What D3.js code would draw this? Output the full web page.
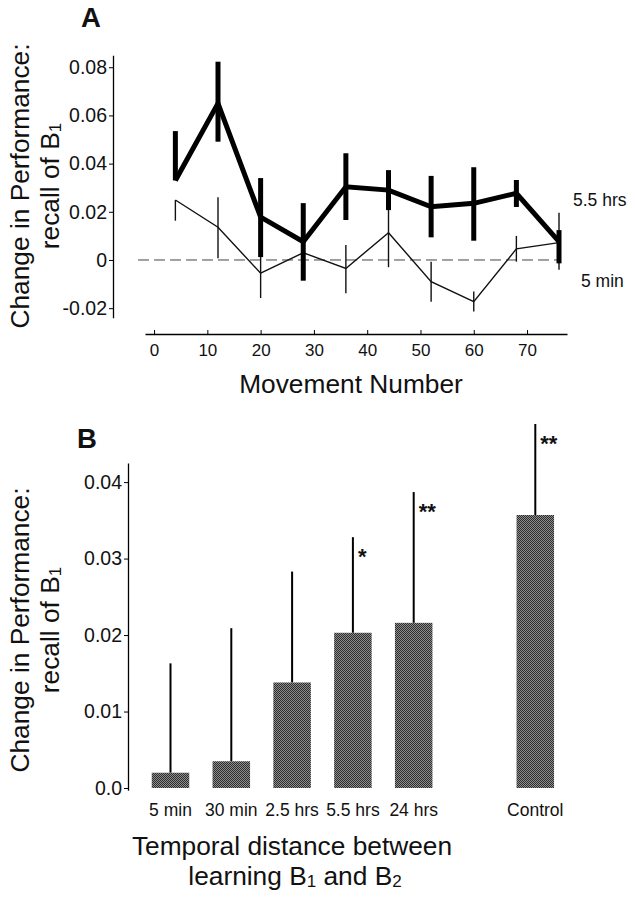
<!DOCTYPE html>
<html>
<head>
<meta charset="utf-8">
<script src="https://cdn.jsdelivr.net/npm/d3@7/dist/d3.min.js"></script>
<style>
  html, body { margin: 0; padding: 0; background: #fff; }
  svg { display: block; }
  text { font-family: "Liberation Sans", Arial, Helvetica, sans-serif; fill: #111; }
</style>
</head>
<body>
<script>
// ---------------- DATA ----------------
// Panel A
const movement = [4, 12, 20, 28, 36, 44, 52, 60, 68, 76];
const hrs55     = [0.0330, 0.0650, 0.0178, 0.0076, 0.0304, 0.0290, 0.0221, 0.0235, 0.0277, 0.0076];
const hrs55Hi   = [0.0535, 0.0823, 0.0340, 0.0236, 0.0443, 0.0373, 0.0349, 0.0385, 0.0332, 0.0124];
const hrs55Lo   = [0.0330, 0.0491, 0.0012, -0.0086, 0.0166, 0.0207, 0.0094, 0.0080, 0.0220, -0.0014];
const min5      = [0.0249, 0.0136, -0.0055, 0.0030, -0.0035, 0.0113, -0.0090, -0.0173, 0.0046, 0.0072];
const min5Hi    = [0.0249, 0.0260, 0.0050, 0.0120, 0.0062, 0.0256, -0.0007, -0.0131, 0.0100, 0.0196];
const min5Lo    = [0.0163, 0.0007, -0.0158, -0.0060, -0.0138, -0.0030, -0.0173, -0.0214, -0.0007, -0.0041];
const seriesLabelsA = ["5.5 hrs", "5 min"];
const yTicksA = [-0.02, 0, 0.02, 0.04, 0.06, 0.08];
const yTickLabelsA = ["-0.02", "0", "0.02", "0.04", "0.06", "0.08"];
const xTicksA = [0, 10, 20, 30, 40, 50, 60, 70];

// Panel B
const categoriesB = ["5 min", "30 min", "2.5 hrs", "5.5 hrs", "24 hrs", "Control"];
const valuesB   = [0.0020, 0.0035, 0.0138, 0.0203, 0.0216, 0.0357];
const errTopB   = [0.0163, 0.0209, 0.0283, 0.0328, 0.0387, 0.0476];
const signifB   = ["", "", "", "*", "**", "**"];
const yTicksB = [0, 0.01, 0.02, 0.03, 0.04];
const yTickLabelsB = ["0.0", "0.01", "0.02", "0.03", "0.04"];

// ---------------- DRAW ----------------
const W = 635, H = 899;
const TITLE = 26.3, TICK = 19.5;
const svg = d3.select("body").append("svg").attr("width", W).attr("height", H);
svg.append("rect").attr("width", W).attr("height", H).attr("fill", "#fff");

const defs = svg.append("defs");
const pat = defs.append("pattern").attr("id", "stip").attr("patternUnits", "userSpaceOnUse")
  .attr("width", 2).attr("height", 2);
pat.append("rect").attr("width", 2).attr("height", 2).attr("fill", "#8e8e8e");
pat.append("rect").attr("x", 0).attr("y", 0).attr("width", 1).attr("height", 1).attr("fill", "#2c2c2c");
pat.append("rect").attr("x", 1).attr("y", 1).attr("width", 1).attr("height", 1).attr("fill", "#2c2c2c");

function yTitle(xLine1, xLine2, yc) {
  svg.append("text").attr("transform", `translate(${xLine1},${yc}) rotate(-90)`)
    .attr("text-anchor", "middle").attr("font-size", TITLE).text("Change in Performance:");
  const t = svg.append("text").attr("transform", `translate(${xLine2},${yc}) rotate(-90)`)
    .attr("text-anchor", "middle").attr("font-size", TITLE);
  t.append("tspan").text("recall of B");
  t.append("tspan").attr("font-size", 17).attr("dy", 2).text("1");
}

// ===== Panel A =====
const xA = d3.scaleLinear().domain([-1.7, 77.5]).range([145, 567]);
const yA = d3.scaleLinear().domain([-0.024, 0.085]).range([317.8, 55.2]);

svg.append("text").attr("x", 81).attr("y", 27).attr("font-size", 27.5).attr("font-weight", "bold").text("A");
yTitle(28.5, 59, 186);

// y axis A
const gyA = svg.append("g").attr("transform", "translate(113,0)");
gyA.call(d3.axisLeft(yA).tickValues(d3.range(-0.0225, 0.0851, 0.0025)).tickSize(2).tickFormat("").tickSizeOuter(0));
gyA.call(d3.axisLeft(yA).tickValues(yTicksA).tickSize(4).tickPadding(2).tickSizeOuter(0)
  .tickFormat((d, i) => yTickLabelsA[i]));
gyA.selectAll("path.domain").attr("stroke-width", 1.3);
gyA.selectAll("text").attr("font-size", TICK).attr("font-family", null);

// x axis A
const gxA = svg.append("g").attr("transform", "translate(0,334)");
gxA.call(d3.axisBottom(xA).tickValues(d3.range(0, 78, 2)).tickSize(-2).tickFormat("").tickSizeOuter(0));
gxA.call(d3.axisBottom(xA).tickValues(xTicksA).tickSize(-4).tickPadding(9.5).tickSizeOuter(0));
gxA.selectAll("path.domain").attr("stroke-width", 1.3);
gxA.selectAll("text").attr("font-size", 17).attr("font-family", null);

svg.append("text").attr("x", 351).attr("y", 393).attr("text-anchor", "middle").attr("font-size", TITLE)
  .text("Movement Number");

// zero dashed line
svg.append("line").attr("x1", 138).attr("x2", xA(76)).attr("y1", yA(0)).attr("y2", yA(0))
  .attr("stroke", "#444").attr("stroke-width", 1).attr("stroke-dasharray", "11,5");

const lineA = d3.line().x(d => xA(d[0])).y(d => yA(d[1]));

// thin 5 min series
svg.append("path").datum(movement.map((m, i) => [m, min5[i]])).attr("d", lineA)
  .attr("fill", "none").attr("stroke", "#111").attr("stroke-width", 1.4);
svg.append("g").selectAll("line").data(movement).join("line")
  .attr("x1", d => xA(d)).attr("x2", d => xA(d))
  .attr("y1", (d, i) => yA(min5Hi[i])).attr("y2", (d, i) => yA(min5Lo[i]))
  .attr("stroke", "#111").attr("stroke-width", 1.4);

// thick 5.5 hrs series
svg.append("path").datum(movement.map((m, i) => [m, hrs55[i]])).attr("d", lineA)
  .attr("fill", "none").attr("stroke", "#000").attr("stroke-width", 5).attr("stroke-linejoin", "miter");
svg.append("g").selectAll("line").data(movement).join("line")
  .attr("x1", d => xA(d)).attr("x2", d => xA(d))
  .attr("y1", (d, i) => yA(hrs55Hi[i])).attr("y2", (d, i) => yA(hrs55Lo[i]))
  .attr("stroke", "#000").attr("stroke-width", 5);

svg.append("text").attr("x", 573).attr("y", 206).attr("font-size", 17.5).text(seriesLabelsA[0]);
svg.append("text").attr("x", 581).attr("y", 287).attr("font-size", 17.5).text(seriesLabelsA[1]);

// ===== Panel B =====
const bandDomain = [...categoriesB.slice(0, 5), "__gap__", categoriesB[5]];
const xB = d3.scaleBand().domain(bandDomain).range([140.1, 565.7]).paddingInner(0.383).paddingOuter(0.1915);
const yB = d3.scaleLinear().domain([-0.0003, 0.0425]).range([790.3, 463]);

svg.append("text").attr("x", 77).attr("y", 448).attr("font-size", 27.5).attr("font-weight", "bold").text("B");
yTitle(28.5, 59, 630);

const gyB = svg.append("g").attr("transform", "translate(128,0)");
gyB.call(d3.axisLeft(yB).tickValues(d3.range(0, 0.0421, 0.001)).tickSize(2).tickFormat("").tickSizeOuter(0));
gyB.call(d3.axisLeft(yB).tickValues(yTicksB).tickSize(4).tickPadding(2).tickSizeOuter(0)
  .tickFormat((d, i) => yTickLabelsB[i]));
gyB.selectAll("path.domain").attr("stroke-width", 1.3);
gyB.selectAll("text").attr("font-size", TICK).attr("font-family", null);

// error lines
svg.append("g").selectAll("line").data(categoriesB).join("line")
  .attr("x1", d => xB(d) + xB.bandwidth() / 2).attr("x2", d => xB(d) + xB.bandwidth() / 2)
  .attr("y1", (d, i) => yB(valuesB[i])).attr("y2", (d, i) => yB(errTopB[i]))
  .attr("stroke", "#000").attr("stroke-width", 2);

// bars
svg.append("g").selectAll("rect").data(categoriesB).join("rect")
  .attr("x", d => xB(d)).attr("width", xB.bandwidth())
  .attr("y", (d, i) => yB(valuesB[i])).attr("height", (d, i) => yB(0) - yB(valuesB[i]))
  .attr("fill", "url(#stip)");

// significance stars
svg.append("g").selectAll("text").data(categoriesB).join("text")
  .attr("x", d => xB(d) + xB.bandwidth() / 2 + 5)
  .attr("y", (d, i) => yB(errTopB[i]) + 27)
  .attr("font-size", 22).attr("font-weight", "bold").text((d, i) => signifB[i]);

// category labels
svg.append("g").selectAll("text").data(categoriesB).join("text")
  .attr("x", d => xB(d) + xB.bandwidth() / 2).attr("y", 816)
  .attr("text-anchor", "middle").attr("font-size", 17.5).text(d => d);

// x title B
svg.append("text").attr("x", 292).attr("y", 855).attr("text-anchor", "middle").attr("font-size", TITLE)
  .text("Temporal distance between");
const t2 = svg.append("text").attr("x", 295).attr("y", 885).attr("text-anchor", "middle").attr("font-size", TITLE);
t2.append("tspan").text("learning B");
t2.append("tspan").attr("font-size", 17).attr("dy", 2).text("1");
t2.append("tspan").attr("dy", -2).text(" and B");
t2.append("tspan").attr("font-size", 17).attr("dy", 2).text("2");
</script>
</body>
</html>
